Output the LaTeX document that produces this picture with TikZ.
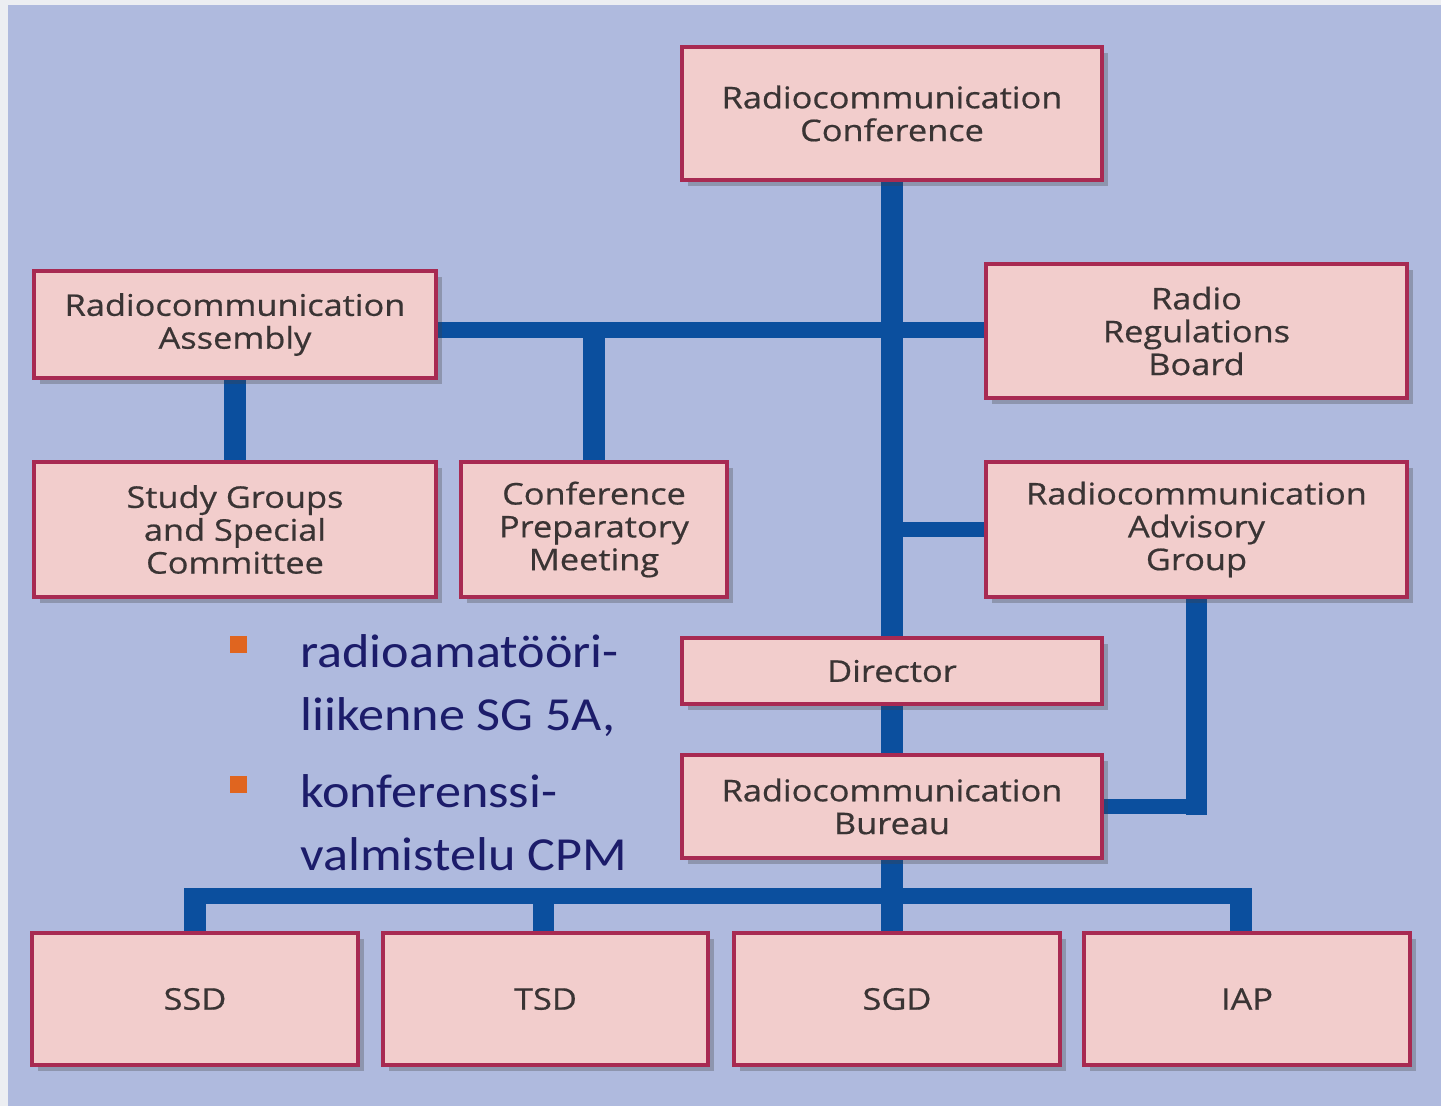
\documentclass[tikz,border=0pt]{standalone}
\usepackage{fontspec}
\setmainfont[FakeStretch=1.15,FakeBold=0.6]{Open Sans}
\newfontfamily\bulletfont[FakeStretch=1.1]{Carlito}
\usetikzlibrary{shadows}
\definecolor{bgblue}{HTML}{AFBADE}
\definecolor{bgstrip}{HTML}{ECEEF2}
\definecolor{boxfill}{HTML}{F2CDCC}
\definecolor{boxdraw}{HTML}{A82A52}
\definecolor{boxtext}{HTML}{3A3434}
\definecolor{conn}{HTML}{0B4F9E}
\definecolor{navytext}{HTML}{1C1C6A}
\definecolor{bulletsq}{HTML}{E0651F}
\pgfdeclarelayer{back}
\pgfdeclarelayer{links}
\pgfsetlayers{back,links,main}
\tikzset{
  orgbox/.style={draw=boxdraw, line width=2.1pt, fill=boxfill, inner sep=0pt,
    text=boxtext, align=center, font=\fontsize{17}{18.7}\selectfont,
    drop shadow={shadow xshift=0.12cm, shadow yshift=-0.12cm, opacity=0.3, fill=black!75}},
  vbar/.style={draw=conn, line width=12pt},
  hbar/.style={draw=conn, line width=9pt},
  bultext/.style={anchor=base west, inner sep=0pt, text=navytext,
    font=\bulletfont\fontsize{27}{30}\selectfont},
  bulsq/.style={fill=bulletsq, inner sep=0pt, minimum size=0.34cm}
}
\newcommand\orgnode[6]{%
  \node[orgbox, minimum width={(#4-#2)*0.02cm}, minimum height={(#5-#3)*0.02cm}]
    (#1) at ({(#2+#4)/2},{(#3+#5)/2}) {#6};}
\begin{document}
\begin{tikzpicture}[x=0.02cm, y=-0.02cm]
\begin{pgfonlayer}{back}
  \fill[bgstrip] (0,0) rectangle (1441,1106);
  \fill[bgblue] (8,5) rectangle (1441,1106);
\end{pgfonlayer}
\useasboundingbox (0,0) rectangle (1441,1106);

\orgnode{RC}{682}{47}{1102}{180}{Radiocommunication\\Conference}
\orgnode{RA}{34}{271}{436}{378}{Radiocommunication\\Assembly}
\orgnode{RRB}{986}{264}{1407}{398}{Radio\\Regulations\\Board}
\orgnode{SG}{34}{462}{436}{597}{Study Groups\\and Special\\Committee}
\orgnode{CPM}{461}{462}{727}{597}{Conference\\Preparatory\\Meeting}
\orgnode{RAG}{986}{462}{1407}{597}{Radiocommunication\\Advisory\\Group}
\orgnode{Dir}{682}{638}{1102}{704}{Director}
\orgnode{RB}{682}{755}{1102}{858}{Radiocommunication\\Bureau}
\orgnode{SSD}{32}{933}{358}{1065}{SSD}
\orgnode{TSD}{383}{933}{708}{1065}{TSD}
\orgnode{SGD}{734}{933}{1060}{1065}{SGD}
\orgnode{IAP}{1084}{933}{1410}{1065}{IAP}

\coordinate (busL) at (185,896);
\coordinate (busR) at (1251,896);
\coordinate (raY) at (436,330);

\begin{pgfonlayer}{links}
  % main trunk
  \draw[vbar] (RC.south) -- (Dir.north);
  \draw[vbar] (Dir.south) -- (RB.north);
  \draw[vbar] (RB.south) -- (RB.south |- SGD.north);
  % assembly line
  \draw[hbar] (RA.east |- raY) -- (RRB.west |- raY);
  \draw[vbar] (CPM.north) -- (CPM.north |- raY);
  \draw[vbar] (RA.south) -- (SG.north);
  % advisory group
  \draw[hbar] (RAG.west) -- (RAG.west -| RC.south);
  \draw[vbar] (RAG.south) -- ([yshift=-0.16cm]RAG.south |- RB.east);
  \draw[hbar] (RB.east) -- ([xshift=0.21cm]RAG.south |- RB.east);
  % bus
  \draw[hbar] (busL) -- (busR);
  \draw[vbar] (SSD.north) -- ([yshift=0.16cm]SSD.north |- busL);
  \draw[vbar] ([xshift=-0.04cm]TSD.north) -- ([xshift=-0.04cm]TSD.north |- busL);
  \draw[vbar] ([xshift=-0.12cm]IAP.north) -- ([xshift=-0.12cm,yshift=0.16cm]IAP.north |- busL);
\end{pgfonlayer}

\node[bulsq] (b1) at (238,644) {};
\node[bulsq] (b2) at (238,784) {};
\node[bultext] (t1) at (300,667) {radioamatööri-};
\node[bultext] (t2) at (300,730) {liikenne SG 5A,};
\node[bultext] (t3) at (300,807) {konferenssi-};
\node[bultext] (t4) at (300,870) {valmistelu CPM};
\end{tikzpicture}
\end{document}
